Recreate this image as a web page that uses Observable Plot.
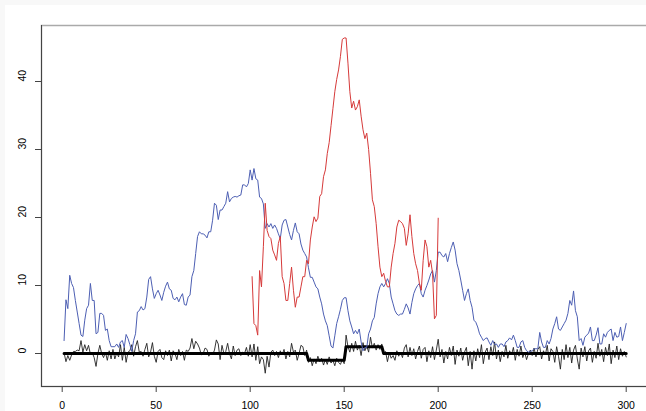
<!DOCTYPE html>
<html><head><meta charset="utf-8">
<script src="https://cdn.jsdelivr.net/npm/d3@7"></script>
<script src="https://cdn.jsdelivr.net/npm/@observablehq/plot@0.6"></script>
<style>
html,body{margin:0;padding:0;background:#f8f8f8;overflow:hidden;}
#chart{position:absolute;left:5px;top:5px;width:641px;height:406px;background:#fff;}
#chart svg{display:block;}
</style></head><body><div id="chart"></div>
<script>
// observed noisy series (t = 1..300)
const noise = [
 0.1,-1.2,-0.3,-1.0,-0.2,0.3,0.3,0.5,0.4,1.9,
 0.2,1.3,0.4,1.2,-0.1,0.1,-0.6,-1.9,0.0,1.2,
 0.0,-0.6,0.2,-1.0,0.4,-0.8,0.6,-0.8,0.1,-0.5,
 1.3,-1.0,0.9,-1.3,0.2,0.4,1.3,-0.4,1.0,1.9,
 0.2,0.3,-0.4,0.6,1.5,-0.5,0.2,1.6,-0.4,-1.3,
 0.3,0.6,-0.6,-0.9,0.4,-0.3,0.5,-1.1,0.4,0.0,
 -0.9,0.6,-0.3,0.3,-1.0,0.5,0.3,0.8,2.2,0.7,
 1.8,1.4,0.8,-0.2,0.0,0.8,0.6,-0.4,0.2,-0.2,
 0.5,2.0,1.4,-0.9,1.2,0.0,0.3,1.5,0.0,-0.8,
 1.1,-0.3,0.5,0.7,-0.3,0.2,0.0,0.9,-0.4,1.3,
 -0.5,1.4,-1.0,1.0,-1.5,-0.5,-0.9,-2.9,-0.4,-2.0,
 0.2,0.5,-0.3,0.3,-0.6,0.4,-0.2,0.6,-0.8,0.3,
 -0.5,1.5,0.2,0.5,-1.0,0.0,1.2,1.0,-0.3,0.5,
 -1.3,-0.6,-1.8,-0.8,-1.5,-0.4,-1.2,-0.7,-1.7,-0.9,
 -1.6,-0.5,-1.4,-1.0,-1.8,-0.7,-1.3,-1.6,-0.9,-1.5,
 2.7,1.0,0.2,1.5,0.3,1.8,0.5,1.2,-0.3,1.6,
 0.4,1.1,0.2,2.4,0.8,1.5,0.5,1.3,0.6,1.4,
 -0.2,0.3,-1.2,0.1,-0.7,-0.3,-1.0,0.4,-0.4,0.2,
 -0.6,0.8,1.3,-0.5,0.9,-0.3,0.7,-0.8,0.3,1.1,
 -0.7,0.6,0.9,-1.2,0.4,-0.6,1.0,-0.9,0.5,2.1,
 -0.5,0.6,-1.4,0.3,-0.8,0.9,-0.3,1.1,-1.6,0.5,
 -0.4,0.8,-1.0,0.2,0.9,-1.8,0.3,-2.3,0.4,-1.1,
 0.7,-0.6,1.3,-1.5,0.2,0.8,-0.9,1.0,-0.3,1.7,
 -0.8,0.5,-1.2,0.3,-0.5,1.2,-0.7,0.4,-0.2,0.9,
 -1.0,0.6,-0.4,1.1,-0.6,0.2,-0.9,0.0,0.5,-0.3,
 0.8,-0.5,0.6,1.0,-0.8,0.4,-0.2,1.2,-1.1,0.7,
 0.3,-1.3,1.0,-0.4,-2.3,0.6,-0.9,1.3,-0.6,0.9,
 -1.4,0.5,1.2,-0.8,-2.3,0.8,-0.5,1.0,-1.1,0.4,
 0.8,-1.3,0.3,-0.7,1.5,-0.4,0.6,-1.2,0.9,-0.3,
 1.4,-1.5,0.5,-0.6,1.1,-0.9,0.7,-0.4,0.3,-0.5
];
// statistic series (t = 1..300)
const blueSeries = [
 1.9,7.9,6.6,11.5,10.3,9.7,7.8,6.1,4.4,2.7,
 2.5,4.9,6.6,7.1,10.3,7.8,7.8,2.9,3.1,5.9,
 5.9,5.6,3.4,3.6,1.9,1.0,1.0,1.0,1.4,0.9,
 1.7,1.9,0.9,2.8,2.2,1.3,0.3,1.9,2.9,6.1,
 6.3,6.9,6.4,6.6,8.3,10.9,11.3,9.5,8.1,8.8,
 9.3,8.6,7.8,9.0,9.9,10.5,9.5,9.3,8.1,7.9,
 8.3,7.6,8.3,8.8,7.2,7.1,8.3,8.6,11.3,12.2,
 14.7,17.2,17.9,17.6,17.6,17.4,17.0,17.9,17.9,19.6,
 22.1,21.8,19.7,21.1,21.1,21.6,22.1,23.8,22.3,22.8,
 23.0,23.1,23.0,23.2,23.3,24.8,24.8,24.5,25.0,27.0,
 25.5,27.2,25.7,25.5,23.0,22.8,22.0,18.4,19.1,18.6,
 19.1,18.4,18.9,18.4,17.6,16.9,18.9,19.6,19.7,18.6,
 17.5,16.7,18.1,19.2,17.9,17.6,16.1,15.2,14.7,14.2,
 12.6,11.2,11.2,10.5,9.8,9.5,8.3,7.3,5.8,4.8,
 4.1,2.6,1.1,0.8,2.6,4.4,5.4,6.5,7.8,8.2,
 8.2,6.3,4.8,3.9,2.9,3.4,2.9,3.6,1.7,0.4,
 0.9,0.9,2.9,3.6,4.8,5.3,7.3,8.8,9.8,10.3,
 9.8,10.3,11.0,10.3,8.3,7.3,6.3,5.8,5.6,5.8,
 5.8,6.5,7.3,6.7,5.8,7.5,8.8,9.5,10.0,10.3,
 8.8,8.3,9.3,10.0,10.8,11.7,12.2,10.5,12.2,14.9,
 14.9,14.4,14.2,14.7,13.5,14.7,15.6,16.4,15.2,13.2,
 12.2,10.8,9.3,7.8,8.8,9.5,7.8,6.8,4.9,4.6,
 3.9,2.9,2.4,1.9,2.2,2.3,1.7,1.2,1.9,1.3,
 1.4,0.9,1.4,1.4,1.0,1.7,1.9,2.3,2.0,2.7,
 1.9,0.9,0.9,1.7,1.9,0.9,0.4,0.2,0.3,0.4,
 0.7,0.7,0.7,3.1,1.7,0.9,0.9,1.9,1.4,2.2,
 3.6,4.4,5.4,3.6,3.4,3.9,4.4,4.9,5.9,7.8,
 7.1,9.2,6.3,5.4,1.9,2.2,1.2,2.4,2.7,3.0,
 3.9,1.9,1.9,2.7,3.8,1.4,1.4,2.9,2.4,3.1,
 3.4,3.6,1.9,3.1,2.4,2.5,3.9,1.9,3.1,4.4
];
// windowed series (t = 101..200)
const redStart = 101;
const redSeries = [
 11.3,4.4,4.1,2.7,12.2,9.8,15.7,22.1,18.1,17.2,
 16.9,15.2,14.5,13.7,16.2,17.2,11.3,10.3,7.8,7.8,
 10.3,12.7,9.3,6.8,8.3,8.3,9.8,11.3,11.3,13.7,
 13.2,16.7,18.6,20.1,19.4,19.9,23.1,23.5,26.0,27.0,
 29.4,31.0,33.5,36.0,38.5,40.3,41.7,43.7,46.2,46.4,
 46.4,42.7,38.5,36.1,37.1,35.8,36.3,37.3,34.9,32.9,
 31.6,32.4,30.0,26.5,22.6,21.6,19.1,15.7,12.7,11.3,
 11.8,10.6,9.8,9.8,12.7,14.7,16.2,18.6,19.6,19.4,
 19.1,18.4,15.9,17.6,20.4,17.2,14.7,13.2,12.2,10.3,
 9.3,13.7,16.7,15.7,12.7,13.7,11.8,5.1,5.6,19.9
];
// true signal: piecewise constant segments
const segStart = [1, 131, 151, 171];
const segEnd   = [130, 150, 170, 300];
const segLevel = [0, -1, 1, 0];
const xTicks = [0, 50, 100, 150, 200, 250, 300];
const yTicks = [0, 10, 20, 30, 40];

const noiseData = noise.map((v, i) => ({t: i + 1, v}));
const blueData = blueSeries.map((v, i) => ({t: i + 1, v}));
const redData = redSeries.map((v, i) => ({t: redStart + i, v}));
const stepData = segStart.flatMap((s, i) => [{t: s, v: segLevel[i]}, {t: segEnd[i], v: segLevel[i]}]);

const chart = Plot.plot({
  width: 641, height: 406,
  marginLeft: 36, marginTop: 20, marginRight: -3, marginBottom: 25,
  x: {domain: [0, 300], range: [56.7, 620.7], label: null},
  y: {domain: [0, 40], range: [348, 76], label: null},
  style: {background: "white", color: "black", fontFamily: "'Liberation Sans', Arial, Helvetica, sans-serif", fontSize: "10.5px"},
  marks: [
    Plot.frame({stroke: "#aaa", strokeWidth: 1.5}),
    Plot.frame({anchor: "left", stroke: "#444"}),
    Plot.frame({anchor: "bottom", stroke: "#444"}),
    Plot.line(noiseData, {x: "t", y: "v", stroke: "#222", strokeWidth: 0.9}),
    Plot.line(stepData, {x: "t", y: "v", stroke: "black", strokeWidth: 3}),
    Plot.line(blueData, {x: "t", y: "v", stroke: "#4d5fb3", strokeWidth: 1}),
    Plot.line(redData, {x: "t", y: "v", stroke: "#d63a3a", strokeWidth: 1}),
    Plot.axisX({ticks: xTicks, tickSize: 6, tickPadding: 9, tickFormat: d => `${d}`, stroke: "#444", label: null}),
    Plot.axisY({ticks: yTicks, tickSize: 6, tickFormat: () => "", stroke: "#444", label: null}),
    Plot.text(yTicks, {y: d => d, text: d => `${d}`, frameAnchor: "left", dx: -19, rotate: -90, fill: "black"})
  ]
});
document.getElementById("chart").appendChild(chart);
</script>
</body></html>
